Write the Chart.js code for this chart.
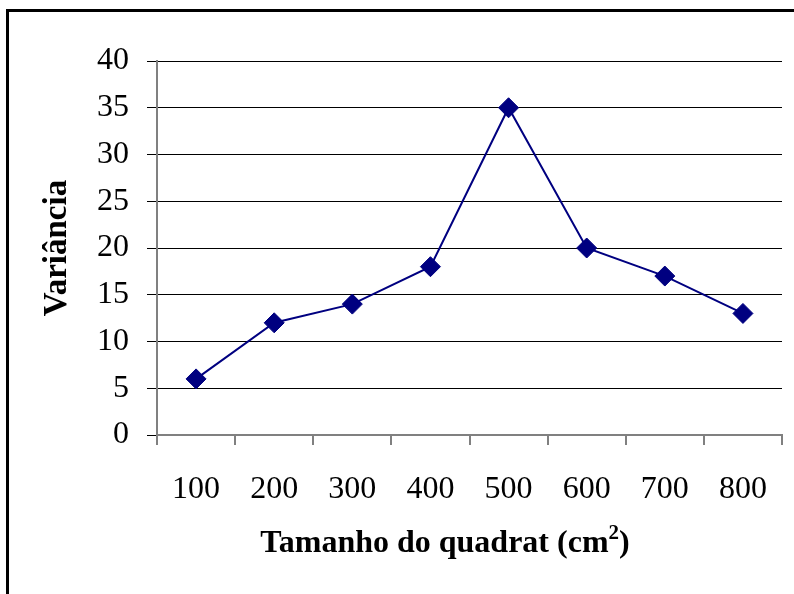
<!DOCTYPE html>
<html>
<head>
<meta charset="utf-8">
<script src="https://cdn.jsdelivr.net/npm/chart.js@4"></script>
<style>
  html, body { margin: 0; padding: 0; background: #fff; }
  #wrap { width: 794px; height: 594px; }
</style>
</head>
<body>
<div id="wrap"><canvas id="varChart" width="794" height="594"></canvas></div>
<script>
const sizes = ['100', '200', '300', '400', '500', '600', '700', '800'];
const variance = [6, 12, 14, 18, 35, 20, 17, 13];
const yTicks = [0, 5, 10, 15, 20, 25, 30, 35, 40];

const serif = '"Liberation Serif", "Times New Roman", serif';

// outer frame of the chart (runs off the right and bottom edges)
const framePlugin = {
  id: 'frame',
  beforeDraw(chart) {
    const ctx = chart.ctx;
    ctx.save();
    ctx.fillStyle = '#fff';
    ctx.fillRect(0, 0, chart.width, chart.height);
    ctx.strokeStyle = '#000';
    ctx.lineWidth = 3;
    ctx.strokeRect(7.5, 10.5, 900, 900);
    ctx.restore();
  }
};

// x axis title with a real superscript on the unit
const xTitlePlugin = {
  id: 'xTitle',
  afterDraw(chart) {
    const ctx = chart.ctx;
    const main = 'Tamanho do quadrat (cm';
    const sup = '2';
    const close = ')';
    ctx.save();
    ctx.fillStyle = '#000';
    ctx.textBaseline = 'alphabetic';
    const big = 'bold 32px ' + serif;
    const small = 'bold 21px ' + serif;
    ctx.font = big;
    const wMain = ctx.measureText(main).width;
    const wClose = ctx.measureText(close).width;
    ctx.font = small;
    const wSup = ctx.measureText(sup).width;
    const total = wMain + wSup + wClose;
    let x = 445 - total / 2;
    const base = 552;
    ctx.font = big;
    ctx.fillText(main, x, base);
    x += wMain;
    ctx.font = small;
    ctx.fillText(sup, x, base - 13);
    x += wSup;
    ctx.font = big;
    ctx.fillText(close, x, base);
    ctx.restore();
  }
};

const ctx = document.getElementById('varChart').getContext('2d');
new Chart(ctx, {
  type: 'line',
  data: {
    labels: sizes,
    datasets: [{
      data: variance,
      borderColor: '#000080',
      backgroundColor: '#000080',
      borderWidth: 2,
      tension: 0,
      pointStyle: 'rectRot',
      pointRadius: 10,
      pointBorderWidth: 1,
      pointBackgroundColor: '#000080',
      pointBorderColor: '#000080'
    }]
  },
  plugins: [framePlugin, xTitlePlugin],
  options: {
    responsive: false,
    animation: false,
    layout: { padding: { left: 0, top: 61, right: 12, bottom: 0 } },
    plugins: { legend: { display: false }, tooltip: { enabled: false } },
    scales: {
      x: {
        offset: true,
        grid: {
          offset: true,
          drawOnChartArea: false,
          drawTicks: true,
          tickLength: 10,
          color: '#808080',
          lineWidth: 2
        },
        border: { color: '#808080', width: 2 },
        ticks: {
          color: '#000',
          padding: 25,
          maxRotation: 0,
          font: { family: serif, size: 32 }
        },
        afterFit(scale) { scale.height = 159; }
      },
      y: {
        min: 0,
        max: 40,
        afterBuildTicks(scale) { scale.ticks = yTicks.map(v => ({ value: v })); },
        grid: {
          color: '#000',
          lineWidth: 1,
          tickLength: 10
        },
        border: { color: '#808080', width: 2 },
        ticks: {
          color: '#000',
          padding: 18,
          font: { family: serif, size: 32 }
        },
        title: {
          display: true,
          text: 'Variância',
          color: '#000',
          padding: { top: 38, bottom: 0 },
          font: { family: serif, size: 33, weight: 'bold' }
        },
        afterFit(scale) { scale.width = 157; }
      }
    }
  }
});
</script>
</body>
</html>
